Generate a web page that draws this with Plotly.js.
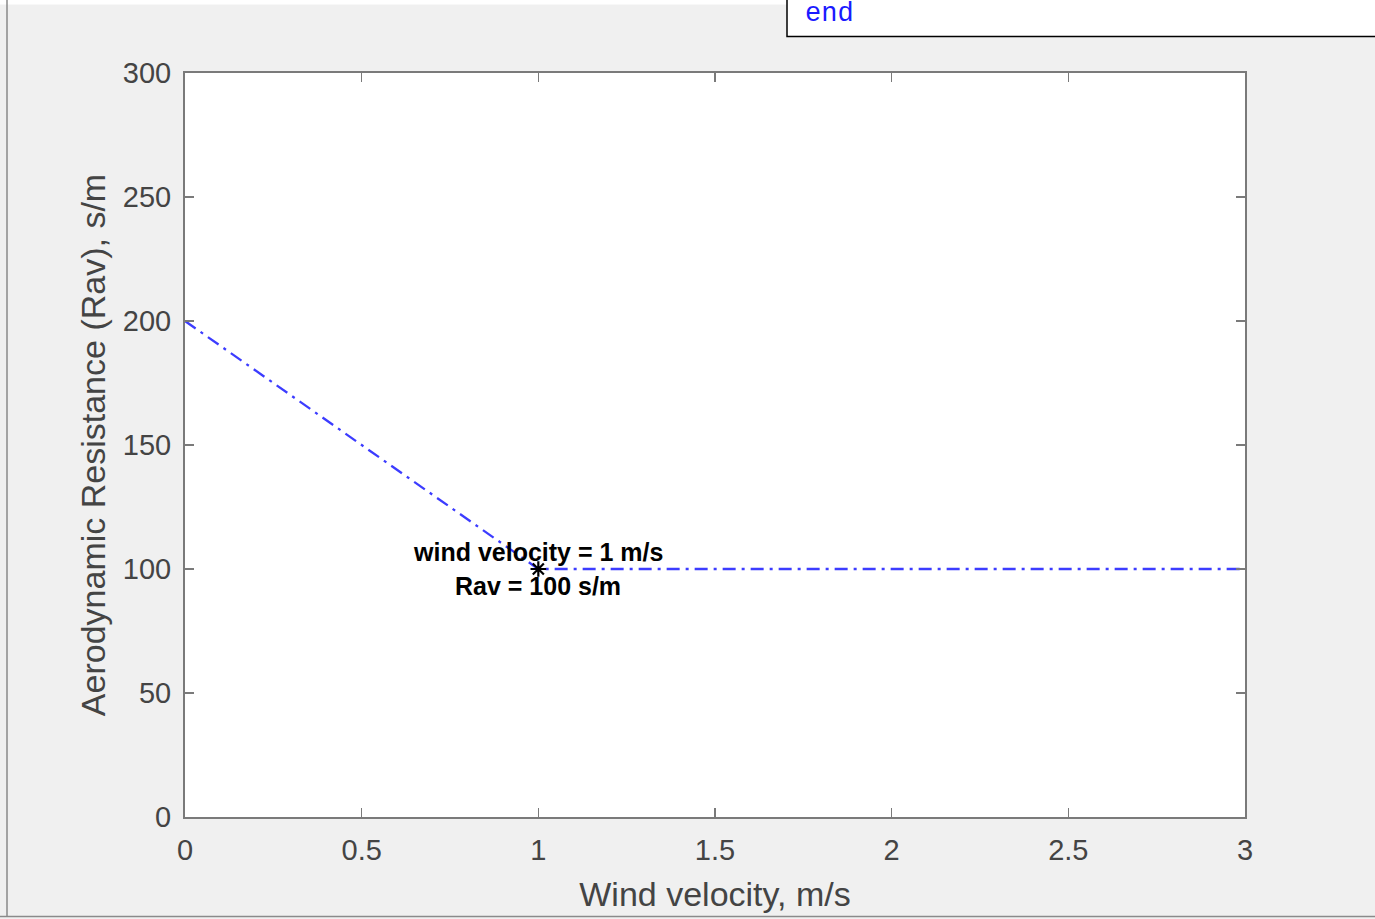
<!DOCTYPE html>
<html>
<head>
<meta charset="utf-8">
<script src="https://cdn.plot.ly/plotly-3.0.1.min.js"></script>
<style>
  html, body { margin: 0; padding: 0; background: #f0f0f0; }
  #chart { width: 1375px; height: 919px; }
</style>
</head>
<body>
<div id="chart"></div>
<script>
// ---- data ----
const windVelocity = [0, 0.5, 1, 1.5, 2, 2.5, 3];
const rav = [200, 150, 100, 100, 100, 100, 100];
const markerX = [1];
const markerY = [100];
const labelLine1 = "wind velocity = 1 m/s";
const labelLine2 = "Rav = 100 s/m";
const xTickVals = [0, 0.5, 1, 1.5, 2, 2.5, 3];
const yTickVals = [0, 50, 100, 150, 200, 250, 300];
const xTitle = "Wind velocity, m/s";
const yTitle = "Aerodynamic Resistance (Rav), s/m";
const codeText = "end";

// ---- layout geometry (pixels) ----
const W = 1375, H = 919;
const L = 185, R = 1245, T = 73, B = 817;
const px = p => (p - L) / (R - L);
const py = p => (B - p) / (B - T);

const sansFont = '"Liberation Sans", Arial, Helvetica, sans-serif';
const axisColor = '#7a7a7a';
const tickColor = '#444444';

const traces = [
  {
    x: windVelocity, y: rav, type: 'scatter', mode: 'lines',
    line: { color: '#3c3cff', width: 2.3, dash: '13px,6px,3px,6px' },
    hoverinfo: 'skip', showlegend: false
  },
  {
    x: markerX, y: markerY, type: 'scatter', mode: 'markers',
    marker: { symbol: 'asterisk-open', size: 13, color: '#000', line: { color: '#000', width: 2.2 } },
    hoverinfo: 'skip', showlegend: false
  }
];

const layout = {
  width: W, height: H,
  paper_bgcolor: '#f0f0f0', plot_bgcolor: '#ffffff',
  margin: { l: L, r: W - R, t: T, b: H - B, pad: 0 },
  showlegend: false,
  font: { family: sansFont, color: tickColor },
  xaxis: {
    range: [0, 3], tickvals: xTickVals, ticktext: xTickVals.map(String),
    ticks: 'inside', ticklen: 9, tickwidth: 1.5, tickcolor: axisColor,
    showline: true, linecolor: axisColor, linewidth: 2, mirror: 'ticks',
    showgrid: false, zeroline: false,
    tickfont: { family: sansFont, size: 29, color: tickColor },
    ticklabelstandoff: 6,
    title: { text: xTitle, font: { family: sansFont, size: 34, color: tickColor }, standoff: 17 },
    fixedrange: true
  },
  yaxis: {
    range: [0, 300], tickvals: yTickVals, ticktext: yTickVals.map(String),
    ticks: 'inside', ticklen: 9, tickwidth: 1.5, tickcolor: axisColor,
    showline: true, linecolor: axisColor, linewidth: 2, mirror: 'ticks',
    showgrid: false, zeroline: false,
    tickfont: { family: sansFont, size: 29, color: tickColor },
    ticklabelstandoff: 6,
    title: { text: yTitle, font: { family: sansFont, size: 34, color: tickColor }, standoff: 7 },
    fixedrange: true
  },
  shapes: [
    // white strip at very top (window area)
    { type: 'rect', xref: 'paper', yref: 'paper', x0: px(0), x1: px(790), y0: py(-2), y1: py(4.5),
      fillcolor: '#ffffff', line: { width: 0 }, layer: 'below' },
    // left window border
    { type: 'line', xref: 'paper', yref: 'paper', x0: px(7), x1: px(7), y0: py(0), y1: py(917),
      line: { color: '#8a8a8a', width: 1.5 } },
    // bottom window border
    { type: 'line', xref: 'paper', yref: 'paper', x0: px(0), x1: px(1380), y0: py(916.5), y1: py(916.5),
      line: { color: '#8a8a8a', width: 1.5 } },
    // code editor box
    { type: 'rect', xref: 'paper', yref: 'paper', x0: px(787), x1: px(1385), y0: py(-5), y1: py(36.5),
      fillcolor: '#ffffff', line: { color: '#000000', width: 1.5 } }
  ],
  annotations: [
    { x: markerX[0], y: markerY[0], xref: 'x', yref: 'y', text: '<b>' + labelLine1 + '</b>',
      showarrow: false, xanchor: 'center', yanchor: 'middle', yshift: 17,
      font: { family: sansFont, size: 25, color: '#000' } },
    { x: markerX[0], y: markerY[0], xref: 'x', yref: 'y', text: '<b>' + labelLine2 + '</b>',
      showarrow: false, xanchor: 'center', yanchor: 'middle', yshift: -17,
      font: { family: sansFont, size: 25, color: '#000' } },
    { x: px(803), y: py(-3), xref: 'paper', yref: 'paper', text: codeText,
      showarrow: false, xanchor: 'left', yanchor: 'top',
      font: { family: '"Liberation Mono", "Courier New", monospace', size: 27, color: '#1a1aff' } }
  ]
};

Plotly.newPlot('chart', traces, layout, { displayModeBar: false, staticPlot: true });
</script>
</body>
</html>
